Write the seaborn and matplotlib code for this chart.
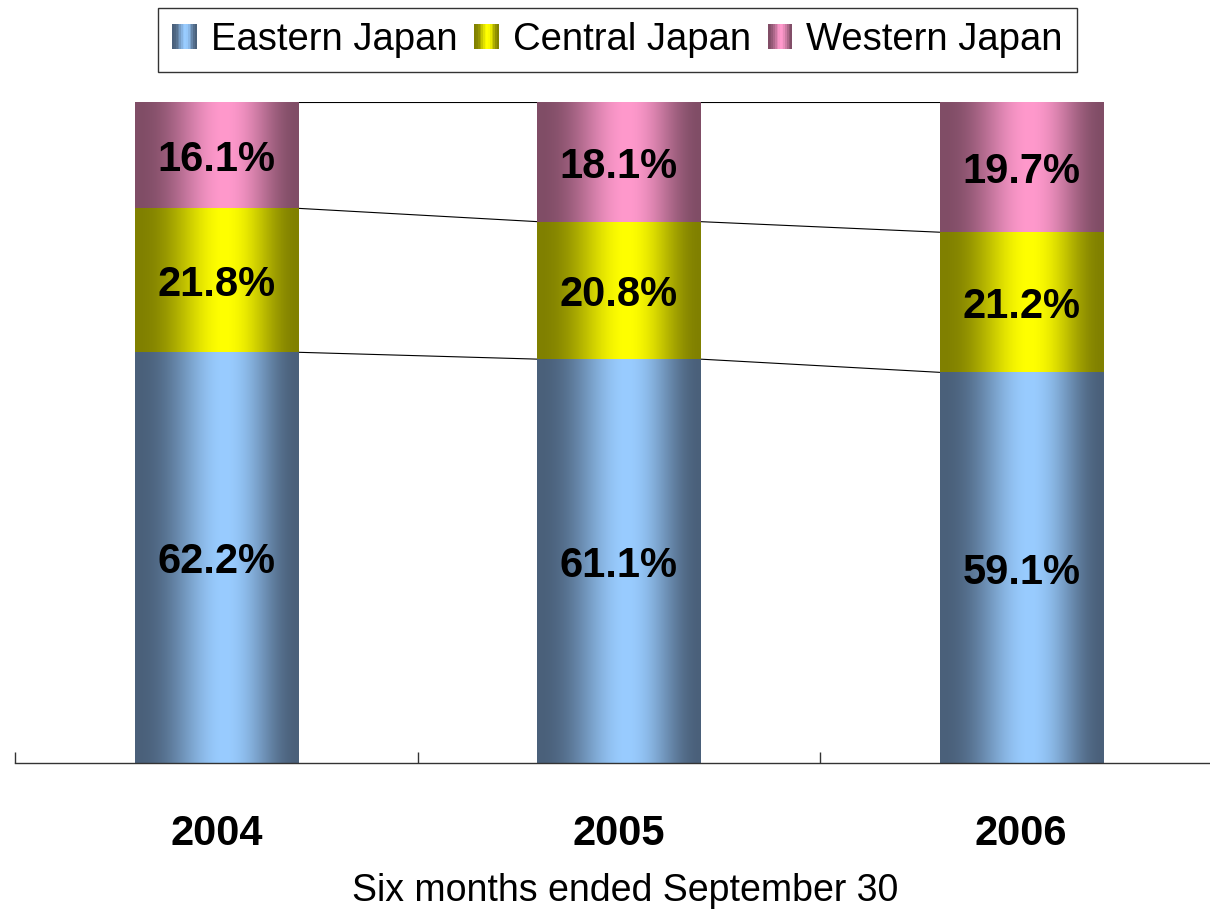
import numpy as np
import pandas as pd
import matplotlib
matplotlib.use("Agg")
import matplotlib.pyplot as plt
import seaborn as sns
from matplotlib.patches import Rectangle
from matplotlib.legend_handler import HandlerBase

# ---- data ----
years = ["2004", "2005", "2006"]
series_names = ["Eastern Japan", "Central Japan", "Western Japan"]
eastern = [62.2, 61.1, 59.1]
central = [21.8, 20.8, 21.2]
western = [16.1, 18.1, 19.7]
x_label = "Six months ended September 30"

# ---- styles ----
dark_cols = {"Eastern Japan": (74, 96, 122), "Central Japan": (128, 128, 0), "Western Japan": (128, 77, 102)}
light_cols = {"Eastern Japan": (153, 204, 255), "Central Japan": (255, 255, 0), "Western Japan": (255, 153, 204)}


def profile(t):
    return np.sin(np.pi * np.power(t, 1.15)) ** 2


def grad_color(name, t):
    d = np.array(dark_cols[name]) / 255.0
    l = np.array(light_cols[name]) / 255.0
    f = profile(t)
    return d + (l - d) * f


def grad_image(name, n=200):
    t = np.linspace(0, 1, n)
    d = np.array(dark_cols[name]) / 255.0
    l = np.array(light_cols[name]) / 255.0
    f = profile(t)[:, None]
    row = d[None, :] + (l - d)[None, :] * f
    return row[None, :, :]


class GradHandler(HandlerBase):
    def __init__(self, name):
        super().__init__()
        self.name = name

    def create_artists(self, legend, orig_handle, xdescent, ydescent, width, height, fontsize, trans):
        n = 14
        arts = []
        for k in range(n):
            t = (k + 0.5) / n
            r = Rectangle((-xdescent + k * width / n, -ydescent), width / n * 1.05, height,
                          facecolor=grad_color(self.name, t), edgecolor="none", transform=trans)
            arts.append(r)
        return arts


sns.set_theme(style="white")
plt.rcParams["font.family"] = ["Liberation Sans", "DejaVu Sans"]
plt.rcParams["text.color"] = "black"
plt.rcParams["xtick.color"] = "black"
plt.rcParams["axes.labelcolor"] = "black"

W_PX, H_PX = 1210, 915
fig = plt.figure(figsize=(W_PX / 100, H_PX / 100), dpi=100)
ax = fig.add_axes([15 / W_PX, (H_PX - 763) / H_PX, 1 - 15 / W_PX, (763 - 102) / H_PX])

df = pd.DataFrame({"year": years, "Eastern Japan": eastern, "Central Japan": central, "Western Japan": western})
totals = df[series_names].sum(axis=1)
shares = df[series_names].div(totals, axis=0)

BW = 0.405
bottom = np.zeros(len(years))
for name in series_names:
    n_before = len(ax.patches)
    sns.barplot(x=years, y=shares[name].values, bottom=bottom, width=BW, color=np.array(light_cols[name]) / 255,
                saturation=1, errorbar=None, ax=ax, order=years)
    new = ax.patches[n_before:]
    for p, v in zip(new, df[name].values):
        x0, w = p.get_x(), p.get_width()
        y0, h = p.get_y(), p.get_height()
        ax.imshow(grad_image(name), extent=[x0, x0 + w, y0, y0 + h], aspect="auto",
                  interpolation="bilinear", zorder=2)
        p.set_visible(False)
        ax.annotate(f"{v:.1f}%", xy=(x0 + w / 2, y0 + h / 2), xytext=(0, -3.5), textcoords="offset points",
                    ha="center", va="center", fontsize=30, fontweight="bold", color="black", zorder=4)
    bottom = bottom + shares[name].values

# series lines between bars
cum = np.cumsum(shares[series_names].values, axis=1)
for j in range(cum.shape[1]):
    for i in range(len(years) - 1):
        ax.plot([i + BW / 2, i + 1 - BW / 2], [cum[i, j], cum[i + 1, j]], color="black", lw=0.8, zorder=1)

ax.set_xlim(-0.5, -0.5 + (W_PX - 15) / 402.5)
ax.set_ylim(0, 1)
ax.set_yticks([])
ax.set_ylabel("")
for s in ["top", "right", "left"]:
    ax.spines[s].set_visible(False)
ax.spines["bottom"].set_color("#333333")
ax.spines["bottom"].set_linewidth(1.0)

ax.set_xticks(range(len(years)))
ax.set_xticklabels(years, fontsize=30, fontweight="bold", color="black")
ax.set_xticks([-0.5, 0.5, 1.5], minor=True)
ax.tick_params(axis="x", which="major", bottom=True, length=0, pad=37)
ax.tick_params(axis="x", which="minor", bottom=True, length=8, direction="in", color="#333333", width=1)

ax.set_xlabel(x_label, fontsize=27, va="center", color="black")
ax.xaxis.set_label_coords((625 - 15) / (W_PX - 15), -(891 - 763) / (763 - 102))

handles = [Rectangle((0, 0), 1, 1) for _ in series_names]
leg = fig.legend(handles, series_names, loc="center", bbox_to_anchor=(617.5 / W_PX, 1 - 40 / H_PX),
                 ncol=3, frameon=True, fancybox=False, fontsize=27.5,
                 handlelength=0.63, handleheight=0.63, handletextpad=0.37, columnspacing=0.45,
                 borderpad=0.37, handler_map={h: GradHandler(n) for h, n in zip(handles, series_names)})
leg.get_frame().set_edgecolor("black")
leg.get_frame().set_linewidth(1.0)
for t in leg.get_texts():
    t.set_color("black")

fig.savefig("out.png", dpi=100)
